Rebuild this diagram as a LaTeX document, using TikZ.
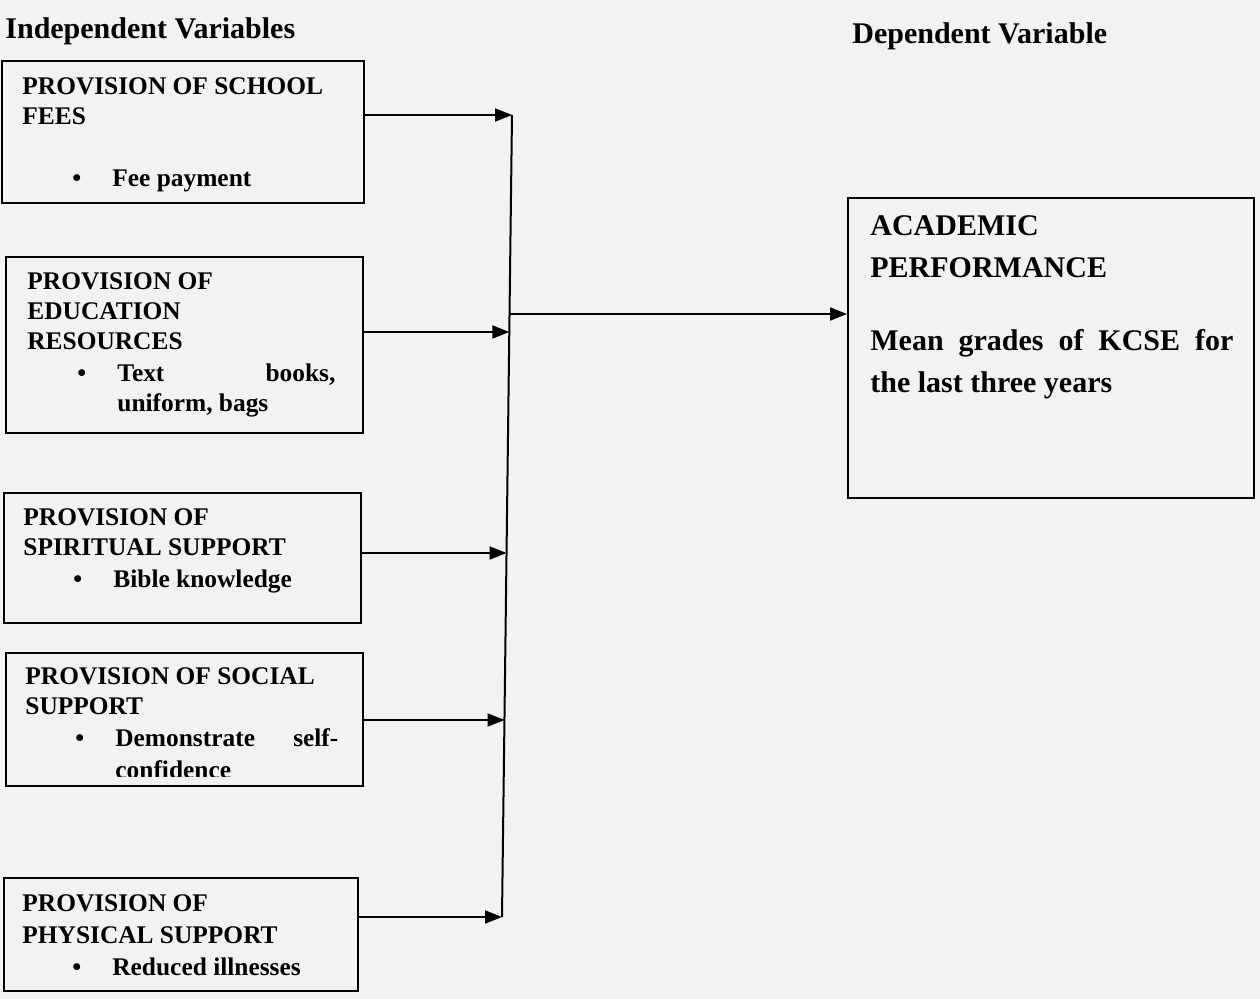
\documentclass[tikz,border=0pt]{standalone}
\usepackage{fontspec}
\setmainfont{Liberation Serif}
\usetikzlibrary{arrows.meta}

\newcommand{\bitem}{\hspace*{25pt}\makebox[20pt][l]{\textbullet}}
\newcommand{\bcont}{\hspace*{45pt}}

\tikzset{
  box/.style={draw, line width=1pt, anchor=north west, inner sep=0pt},
  boxtext/.style={anchor=north west, inner sep=0pt, align=left, font=\fontsize{12.7}{16}\selectfont\bfseries},
  bigtext/.style={anchor=north west, inner sep=0pt, align=left, font=\fontsize{15}{21}\selectfont\bfseries},
  head/.style={anchor=base west, inner sep=0pt, font=\fontsize{15}{18}\selectfont\bfseries},
  arr/.style={line width=1pt, -{Triangle[length=8.5pt,width=6.5pt]}},
}

\begin{document}
\begin{tikzpicture}[x=0.5pt, y=-0.5pt]
                \fill[black!5] (0,0) rectangle (1260,999);
                \useasboundingbox (0,0) rectangle (1260,999);

                % headings
                \node[head] (indep) at (5,39) {Independent Variables};
                \node[head] (dep) at (852,44) {Dependent Variable};

                % boxes
                \node[box, minimum width=181pt, minimum height=71pt] (fees) at (1,60) {};
                \node[box, minimum width=178.5pt, minimum height=88pt] (edu) at (5,256) {};
                \node[box, minimum width=178.5pt, minimum height=65pt] (spirit) at (3,492) {};
                \node[box, minimum width=178.5pt, minimum height=66.5pt] (social) at (5,652) {};
                \node[box, minimum width=177pt, minimum height=56.5pt] (phys) at (3,877) {};
                \node[box, minimum width=203pt, minimum height=150pt] (perf) at (847,197) {};

                % box texts
                \node[boxtext] (feestxt) at (22,77) {PROVISION OF SCHOOL\\[-1pt] FEES\\[15pt]
                    \bitem Fee payment};
                \node[boxtext] (edutxt) at (27,272) {PROVISION OF\\[-1pt] EDUCATION\\[-1pt] RESOURCES\\
                    \bitem\makebox[109pt][s]{Text\hfill books,}\\[-1pt] \bcont uniform, bags};
                \node[boxtext] (spirittxt) at (23,508) {PROVISION OF\\[-1pt] SPIRITUAL SUPPORT\\
                    \bitem Bible knowledge};
                \begin{scope}
                    \clip (0,640) rectangle (400,777);
                    \node[boxtext] (socialtxt) at (25,667) {PROVISION OF SOCIAL\\[-1pt] SUPPORT\\
                        \bitem\makebox[111.5pt][s]{Demonstrate\hfill self-}\\ \bcont confidence};
                \end{scope}
                \node[boxtext] (phystxt) at (22,894) {PROVISION OF\\ PHYSICAL SUPPORT\\
                    \bitem Reduced illnesses};
                \node[bigtext] (perftxt) at (870,215) {ACADEMIC\\ PERFORMANCE\\[15.5pt]
                    \makebox[181.5pt][s]{Mean\hfill grades\hfill of\hfill KCSE\hfill for}\\ the last three years};

                % collecting line
                \coordinate (b1) at (512,115);
                \coordinate (b2) at (509.3,332);
                \coordinate (b3) at (506.5,553);
                \coordinate (b4) at (504.5,720);
                \coordinate (b5) at (502,917);
                \coordinate (out) at (509.5,314);
                \draw[line width=1pt] (b1) -- (b5);

                % arrows
                \draw[arr] (fees.east |- b1) -- (b1);
                \draw[arr] (edu.east |- b2) -- (b2);
                \draw[arr] (spirit.east |- b3) -- (b3);
                \draw[arr] (social.east |- b4) -- (b4);
                \draw[arr] (phys.east |- b5) -- (b5);
                \draw[arr] (out) -- (perf.west |- out);
            \end{tikzpicture}
\end{document}
